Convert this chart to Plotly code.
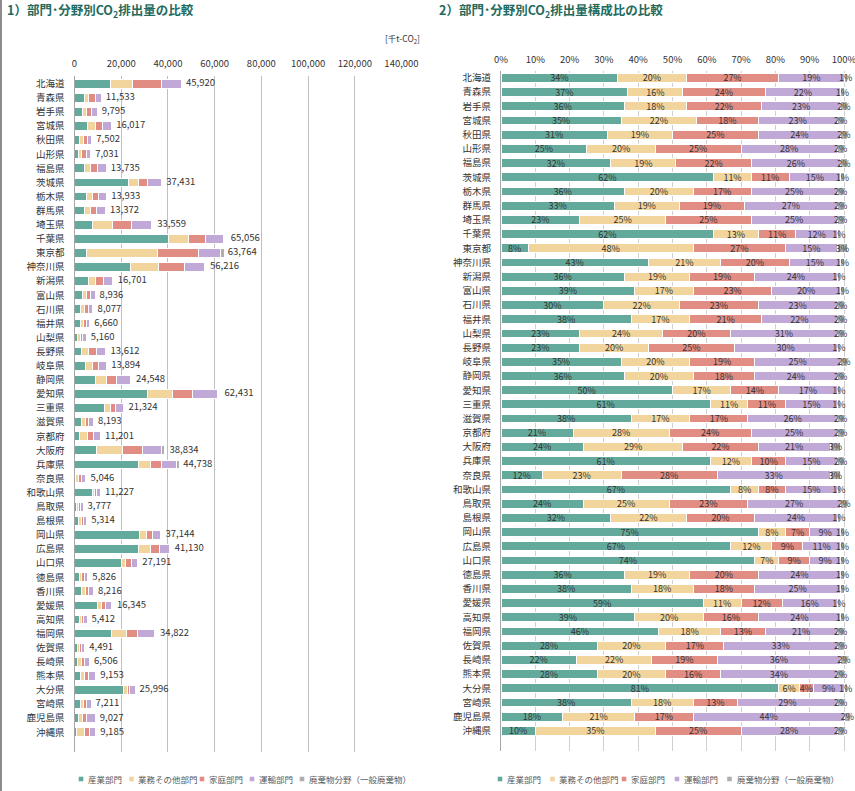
import plotly.graph_objects as go

W, H = 855, 791

prefs = ["北海道","青森県","岩手県","宮城県","秋田県","山形県","福島県","茨城県","栃木県","群馬県",
         "埼玉県","千葉県","東京都","神奈川県","新潟県","富山県","石川県","福井県","山梨県","長野県",
         "岐阜県","静岡県","愛知県","三重県","滋賀県","京都府","大阪府","兵庫県","奈良県","和歌山県",
         "鳥取県","島根県","岡山県","広島県","山口県","徳島県","香川県","愛媛県","高知県","福岡県",
         "佐賀県","長崎県","熊本県","大分県","宮崎県","鹿児島県","沖縄県"]

sectors = ["産業部門", "業務その他部門", "家庭部門", "運輸部門", "廃棄物分野（一般廃棄物）"]
colors = ["#64AA9C", "#F2D59C", "#E28D84", "#C1A9D7", "#AFAFAF"]

# 1) emissions [千t-CO2]
ind_kt = [15613,4267,3526,5606,2326,1758,4395,23207,5016,4413,7719,40335,5101,24173,6012,3485,2423,2531,1187,3131,4863,8837,31216,13008,3113,2352,9320,27290,606,7522,906,1700,27858,27557,20121,2097,3122,9644,2111,16018,1257,1431,2563,21057,2740,1625,919]
biz_kt = [9184,1845,1763,3524,1425,1406,2610,4117,2787,2541,8390,8457,30607,11805,3173,1519,1777,1132,1238,2722,2779,4910,10613,2346,1393,3136,11262,5369,1161,898,944,1169,2972,4936,1903,1107,1479,1798,1082,6268,898,1431,1831,1560,1298,1896,3215]
home_kt = [12398,2768,2155,2883,1876,1758,3022,4117,2369,2541,8390,7156,17216,11243,3173,2055,1858,1399,1032,3403,2640,4419,8740,2346,1393,2688,8543,4474,1413,898,869,1063,2600,3702,2447,1165,1479,1961,866,4527,763,1236,1464,1040,937,1535,2296]
trans_kt = [8725,2537,2253,3684,1800,1969,3571,5615,3483,3610,8390,7807,9565,8432,4008,1787,1858,1465,1600,4084,3474,5892,10613,3199,2130,2800,8155,6711,1665,1684,1020,1275,3343,4524,2447,1398,2054,2615,1299,7313,1482,2342,3112,2340,2091,3972,2572]
waste_kt = [459,115,196,320,150,141,275,374,279,267,671,651,1913,562,167,89,162,133,103,136,278,491,624,213,164,224,1165,895,151,112,76,53,371,411,272,58,82,163,54,696,90,130,183,260,144,181,184]
totals = [45920,11533,9795,16017,7502,7031,13735,37431,13933,13372,33559,65056,63764,56216,16701,8936,8077,6660,5160,13612,13894,24548,62431,21324,8193,11201,38834,44738,5046,11227,3777,5314,37144,41130,27191,5826,8216,16345,5412,34822,4491,6506,9153,25996,7211,9027,9185]

# 2) shares [%]
ind_pct = [34,37,36,35,31,25,32,62,36,33,23,62,8,43,36,39,30,38,23,23,35,36,50,61,38,21,24,61,12,67,24,32,75,67,74,36,38,59,39,46,28,22,28,81,38,18,10]
biz_pct = [20,16,18,22,19,20,19,11,20,19,25,13,48,21,19,17,22,17,24,20,20,20,17,11,17,28,29,12,23,8,25,22,8,12,7,19,18,11,20,18,20,22,20,6,18,21,35]
home_pct = [27,24,22,18,25,25,22,11,17,19,25,11,27,20,19,23,23,21,20,25,19,18,14,11,17,24,22,10,28,8,23,20,7,9,9,20,18,12,16,13,17,19,16,4,13,17,25]
trans_pct = [19,22,23,23,24,28,26,15,25,27,25,12,15,15,24,20,23,22,31,30,25,24,17,15,26,25,21,15,33,15,27,24,9,11,9,24,25,16,24,21,33,36,34,9,29,44,28]
waste_pct = [1,1,2,2,2,2,2,1,2,2,2,1,3,1,1,1,2,2,2,1,2,2,1,1,2,2,3,2,3,1,2,1,1,1,1,1,1,1,1,2,2,2,2,1,2,2,2]

x_ticks_left = [0, 20000, 40000, 60000, 80000, 100000, 120000, 140000]
x_ticks_right = [0, 10, 20, 30, 40, 50, 60, 70, 80, 90, 100]
x_ticktext_right = ["0%", "10%", "20%", "30%", "40%", "50%", "60%", "70%", "80%", "90%", "100%"]

FONT = "Noto Sans CJK JP, Noto Sans, sans-serif"
TXT = "#333333"

fig = go.Figure()

kt_series = [ind_kt, biz_kt, home_kt, trans_kt, waste_kt]
pct_series = [ind_pct, biz_pct, home_pct, trans_pct, waste_pct]

for name, col, vals in zip(sectors, colors, kt_series):
    fig.add_trace(go.Bar(
        x=vals, y=prefs, orientation="h", name=name,
        marker=dict(color=col, line=dict(color="white", width=1)),
        xaxis="x", yaxis="y", showlegend=False, hoverinfo="x+y+name"))

fig.add_trace(go.Scatter(
    x=totals, y=prefs, mode="text",
    text=["  " + f"{t:,}" for t in totals], textposition="middle right",
    textfont=dict(size=9.5, color=TXT, family=FONT),
    xaxis="x", yaxis="y", showlegend=False, hoverinfo="skip", cliponaxis=False))

for name, col, vals in zip(sectors, colors, pct_series):
    fig.add_trace(go.Bar(
        x=vals, y=prefs, orientation="h", name=name,
        marker=dict(color=col, line=dict(color="white", width=1)),
        text=[f"{v}%" for v in vals], textposition="inside", textangle=0,
        insidetextanchor="middle", constraintext="none",
        textfont=dict(size=9, color=TXT, family=FONT),
        xaxis="x2", yaxis="y2", showlegend=False, cliponaxis=False))

def py(p):
    return 1 - p / H

def px(p):
    return p / W

# right axis: 0% at 501 px, 100% at 844 px; range extended a little so
# rows whose rounded shares add up to 101-102% are still drawn
R_MAX = 102
R_PX0, R_PX100 = 501, 844
r_right_px = R_PX0 + (R_PX100 - R_PX0) * R_MAX / 100

fig.update_layout(
    width=W, height=H,
    margin=dict(l=0, r=0, t=0, b=0, pad=0),
    paper_bgcolor="white", plot_bgcolor="white",
    barmode="stack", bargap=0.38,
    font=dict(family=FONT, color=TXT, size=9.5),
    xaxis=dict(domain=[px(74.5), px(401.5)], range=[0, 140000], side="top",
               tickvals=x_ticks_left, tickformat=",", showgrid=True,
               gridcolor="#BFBFBF", gridwidth=1, zeroline=False, showline=False,
               ticks="", ticklabelstandoff=6, anchor="y", automargin=False,
               ticklabeloverflow="allow",
               tickfont=dict(size=9.5, color=TXT), fixedrange=True),
    yaxis=dict(domain=[py(752), py(75.7)], range=[47.4, -0.57], type="category",
               showline=True, linecolor="#A6A6A6", linewidth=1, showgrid=False,
               ticks="", ticklabelstandoff=7, anchor="x", automargin=False,
               tickfont=dict(size=9.5, color=TXT)),
    xaxis2=dict(domain=[px(R_PX0), px(r_right_px)], range=[0, R_MAX], side="top",
                tickvals=x_ticks_right, ticktext=x_ticktext_right, showgrid=True,
                gridcolor="#D0D0D0", gridwidth=1, zeroline=False, showline=False,
                ticks="", ticklabelstandoff=5, anchor="y2", automargin=False,
                ticklabeloverflow="allow",
                tickfont=dict(size=9.5, color=TXT)),
    yaxis2=dict(domain=[py(750.7), py(70.7)], range=[47.4, -0.51], type="category",
                showline=True, linecolor="#A6A6A6", linewidth=1, showgrid=False,
                ticks="", ticklabelstandoff=7, anchor="x2", automargin=False,
                tickfont=dict(size=9.5, color=TXT)),
)

TITLE_C = "#1F6B5D"
ann = [
    dict(text="<b>1）部門･分野別CO<sub>2</sub>排出量の比較</b>", x=px(5), y=py(11),
         font=dict(size=12.5, color=TITLE_C)),
    dict(text="<b>2）部門･分野別CO<sub>2</sub>排出量構成比の比較</b>", x=px(437), y=py(11),
         font=dict(size=12.5, color=TITLE_C)),
    dict(text="[千t-CO<sub>2</sub>]", x=px(383), y=py(39), font=dict(size=8.5, color=TXT)),
]
for a in ann:
    a.update(xref="paper", yref="paper", xanchor="left", yanchor="middle", showarrow=False)
    fig.add_annotation(**a)

# legends (marker squares + labels)
leg_left_marker = [81, 131.5, 202, 252, 302]
leg_left_text = [86, 136, 207, 257, 307]
leg_right_marker = [500, 552.5, 624, 677, 729.5]
leg_right_text = [505, 557, 629, 682, 735]
LEG_Y = 779
shapes = []
for mk, tx in ((leg_left_marker, leg_left_text), (leg_right_marker, leg_right_text)):
    for i, name in enumerate(sectors):
        shapes.append(dict(type="rect", xref="paper", yref="paper",
                           x0=px(mk[i] - 2.3), x1=px(mk[i] + 2.3),
                           y0=py(LEG_Y + 2.3), y1=py(LEG_Y - 2.3),
                           fillcolor=colors[i], line=dict(width=0)))
        fig.add_annotation(text=name, x=px(tx[i]), y=py(LEG_Y), xref="paper", yref="paper",
                           xanchor="left", yanchor="middle", showarrow=False,
                           font=dict(size=8.5, color="#595959"))

shapes.append(dict(type="line", xref="paper", yref="paper", x0=px(1), x1=px(1), y0=0, y1=1,
                   line=dict(color="#8C8C8C", width=2)))
fig.update_layout(shapes=shapes)

fig.write_html("out.html",
               config={"displayModeBar": False},
               post_script="document.body.style.margin='0';document.body.style.overflow='hidden';")
